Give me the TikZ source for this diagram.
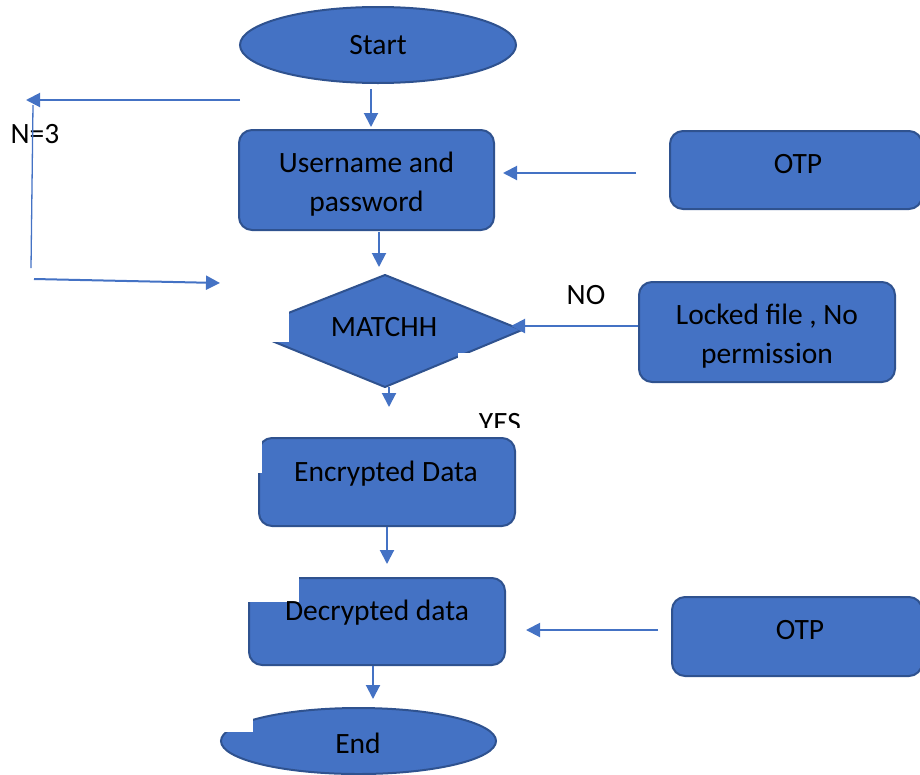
\documentclass[tikz,border=0pt]{standalone}
\usepackage{fontspec}
\setmainfont{Carlito}
\usetikzlibrary{shapes.geometric,arrows.meta}
\definecolor{boxfill}{HTML}{4472C4}
\definecolor{boxline}{HTML}{2F528F}
\definecolor{arrowblue}{HTML}{4472C4}
\begin{document}
\begin{tikzpicture}[x=1pt,y=-1pt,
  txt/.style={font=\fontsize{29.5}{39}\selectfont, text=black, inner sep=0pt},
  lbl/.style={txt, anchor=base},
  multi/.style={txt, align=center, anchor=center},
  procbox/.style={draw=boxline, fill=boxfill, line width=2pt, rounded corners=13pt,
    rectangle, inner sep=0pt, anchor=center},
  terminal/.style={draw=boxline, fill=boxfill, line width=2pt, ellipse,
    inner sep=0pt, anchor=center},
  arr/.style={draw=arrowblue, line width=2pt, -{Triangle[length=14pt,width=14pt]}},
  thinline/.style={draw=arrowblue, line width=1.3pt},
  frame/.style={fill=white, draw=none}]
\clip (0,0) rectangle (920,774);

% shapes
\node[terminal, minimum width=276pt, minimum height=76pt] (start) at (378,45) {};
\node[procbox, minimum width=255pt, minimum height=100pt] (user) at (366.5,180) {};
\node[procbox, minimum width=252pt, minimum height=78pt] (otp1) at (796,170) {};
\node[procbox, minimum width=256pt, minimum height=100pt] (locked) at (767,332) {};
\node[procbox, minimum width=256pt, minimum height=88pt] (enc) at (387,482) {};
\node[procbox, minimum width=256pt, minimum height=87pt] (dec) at (377,621.5) {};
\node[procbox, minimum width=250pt, minimum height=79pt] (otp2) at (797,636.5) {};
\node[terminal, minimum width=275pt, minimum height=66pt] (endn) at (358.5,741) {};

% decision diamond
\coordinate (dtop) at (385,275);
\coordinate (dright) at (522,330);
\coordinate (dbot) at (385,387);
\coordinate (dleft) at (245,330);
\draw[draw=boxline, fill=boxfill, line width=2pt, line join=round]
  (dtop) -- (dright) -- (dbot) -- (dleft) -- cycle;

% white text frames lying over the shapes
\fill[frame] (235,295) rectangle (289,341.5);
\fill[frame] (458,353) rectangle (540,360);
\fill[frame] (255,436) rectangle (262,473);
\fill[frame] (245,575) rectangle (299,602);
\fill[frame] (215,705) rectangle (253,732);

% texts
\node[lbl] (startT) at (378,54) {Start};
\node[multi] (userT) at (366.5,184) {Username and\\password};
\node[lbl] (otp1T) at (798,173) {OTP};
\node[multi] (lockedT) at (767,336) {Locked file , No\\permission};
\node[lbl] (matchT) at (384,336) {MATCHH};
\node[lbl] (noT) at (586,304) {NO};
\node[lbl] (encT) at (386,481) {Encrypted Data};
\node[lbl] (decT) at (377,620) {Decrypted data};
\node[lbl] (otp2T) at (800,639) {OTP};
\node[lbl] (endT) at (358,753) {End};
\node[lbl] (nT) at (35,143) {N=3};
\node[lbl] (yesT) at (500,432) {YES};
\fill[frame] (470,428) rectangle (530,436);

% flow connectors
\draw[arr] ([shift={(-7,5)}]start.south) -- ([shift={(4.5,-2)}]user.north);
\draw[arr] ([shift={(12.5,1)}]user.south) -- ([shift={(-6,-8)}]dtop);
\draw[arr] ([shift={(4,0)}]dbot) -- ([shift={(2,-30)}]enc.north);
\draw[arr] (enc.south) -- ([shift={(10,-13)}]dec.north);
\draw[arr] ([shift={(-4,0)}]dec.south) -- ([shift={(14.5,-8)}]endn.north);
\draw[arr] ([shift={(-33,3)}]otp1.west) -- ([shift={(8,-7)}]user.east);
\draw[arr] ([shift={(0,-6)}]locked.west) -- ([shift={(-11,-4)}]dright);
\draw[arr] ([shift={(-13,-6.5)}]otp2.west) -- ([shift={(20,8.5)}]dec.east);

% retry loop (N=3)
\coordinate (loopA) at (240,100);
\coordinate (loopB) at (26,100);
\coordinate (loopC) at (33,105);
\coordinate (loopD) at (31,268);
\coordinate (loopE) at (34,279);
\coordinate (loopF) at (220,283);
\draw[arr] (loopA) -- (loopB);
\draw[thinline] (loopC) -- (loopD);
\draw[arr] (loopE) -- (loopF);
\end{tikzpicture}
\end{document}
